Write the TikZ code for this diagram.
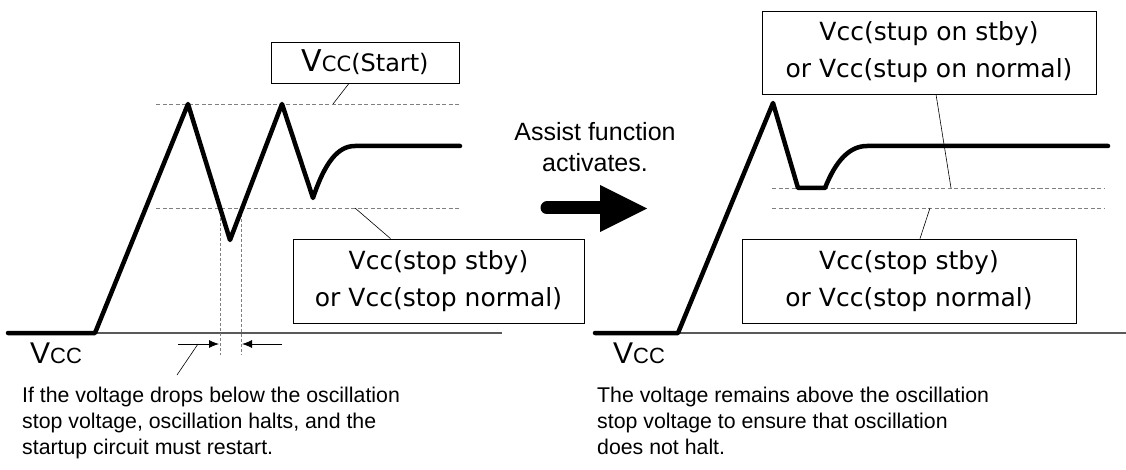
\documentclass[tikz,border=0pt]{standalone}
\usepackage{fontspec}
\setmainfont{Liberation Sans}
\newfontfamily\boxfont{DejaVu Sans}
\usetikzlibrary{arrows.meta}

\begin{document}
\begin{tikzpicture}[x=1pt,y=-1pt,
        wave/.style={line width=4.5pt, line join=round, line cap=round},
        level/.style={gray, line width=0.8pt, dash pattern=on 4pt off 2.5pt},
        guide/.style={gray, line width=0.8pt, dash pattern=on 3pt off 2pt},
        axis/.style={gray!70!black, line width=1.4pt},
        leader/.style={line width=0.6pt},
        dim/.style={line width=0.8pt, -{Latex[length=10pt,width=8pt]}},
        label/.style={draw, line width=0.8pt, align=center, inner sep=0pt,
            font=\boxfont\fontsize{25}{37}\selectfont},
        note/.style={anchor=north west, align=left, inner sep=0pt,
            font=\fontsize{21.3}{26}\selectfont}]
        \useasboundingbox (0,0) rectangle (1126,470);

        % left: oscillation stops
        \draw[axis] (95,333) -- (502,333);
        \draw[level] (156,104) -- (460,104);
        \draw[level] (156,208) -- (460,208);
        \draw[guide] (220,208) -- (220,355);
        \draw[guide] (241,214) -- (241,355);
        \draw[wave] (8,333) -- (95,333) -- (188,104) -- (230,240) -- (282,104) -- (313,198)
            .. controls (325,162) and (338,146) .. (355,146) -- (460,146);

        \node[label, minimum width=188pt, minimum height=41pt] (start) at (365,62.5)
            {{\fontsize{30}{30}\selectfont V}{\fontsize{21}{21}\selectfont CC}{\fontsize{24}{24}\selectfont(Start)}};
        \node[label, minimum width=291pt, minimum height=84pt] (stopL) at (438.5,281)
            {Vcc(stop stby)\\or Vcc(stop normal)};
        \draw[leader] ([xshift=-16pt]start.south) -- (333,104);
        \draw[leader] (355,208) -- ([xshift=-48pt]stopL.north);

        \coordinate (dimL) at (178,344);
        \coordinate (dimR) at (282,344);
        \draw[dim] (dimL) -- (219,344);
        \draw[dim] (dimR) -- (242,344);
        \draw[leader] (198,344) -- (177,375);

        \node[anchor=base west, inner sep=0pt] (vccL) at (30,363)
            {{\fontsize{30}{30}\selectfont V}{\fontsize{22}{22}\selectfont CC}};
        \node[note] (noteL) at (22,386.5)
            {If the voltage drops below the oscillation\\stop voltage, oscillation halts, and the\\startup circuit must restart.};

        % middle: assist arrow
        \node[align=center, inner sep=0pt, font=\fontsize{25}{31}\selectfont] (assist) at (595,147)
            {Assist function\\activates.};
        \draw[line width=13pt, line cap=round] (547,208) -- (602,208);
        \fill (600,185) -- (647,208.5) -- (600,232) -- cycle;

        % right: oscillation keeps going
        \draw[axis] (678,333) -- (1126,333);
        \draw[level] (772,188) -- (1105,188);
        \draw[level] (772,208) -- (1105,208);
        \draw[wave] (595,333) -- (678,333) -- (773,103) -- (798,188) -- (825,188)
            .. controls (836,160) and (850,146) .. (867,146) -- (1108,146);

        \node[label, minimum width=334pt, minimum height=83pt] (stupR) at (929,52.5)
            {Vcc(stup on stby)\\or Vcc(stup on normal)};
        \node[label, minimum width=334pt, minimum height=84pt] (stopR) at (909,281)
            {Vcc(stop stby)\\or Vcc(stop normal)};
        \draw[leader] ([xshift=7pt]stupR.south) -- (951,188);
        \draw[leader] (930,208) -- ([xshift=11pt]stopR.north);

        \node[anchor=base west, inner sep=0pt] (vccR) at (613,363)
            {{\fontsize{30}{30}\selectfont V}{\fontsize{22}{22}\selectfont CC}};
        \node[note] (noteR) at (597,386.5)
            {The voltage remains above the oscillation\\stop voltage to ensure that oscillation\\does not halt.};
\end{tikzpicture}
\end{document}
